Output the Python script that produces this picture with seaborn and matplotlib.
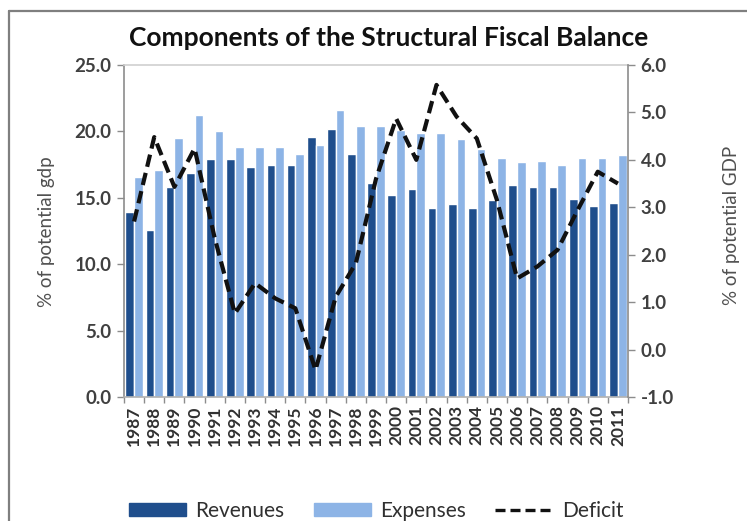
import numpy as np
import pandas as pd
import matplotlib
matplotlib.use("Agg")
import matplotlib.pyplot as plt
import seaborn as sns
from matplotlib.lines import Line2D
from matplotlib.patches import Patch
from matplotlib.ticker import FixedLocator

years = [str(y) for y in range(1987, 2012)]
revenues = [13.9, 12.6, 15.8, 16.9, 17.9, 17.9, 17.3, 17.5, 17.5, 19.6,
            20.2, 18.3, 16.1, 15.2, 15.7, 14.2, 14.5, 14.2, 14.8, 16.0,
            15.8, 15.8, 14.9, 14.4, 14.6]
expenses = [16.6, 17.1, 19.5, 21.2, 20.0, 18.8, 18.8, 18.8, 18.3, 19.0,
            21.6, 20.4, 20.4, 20.1, 19.9, 19.9, 19.4, 18.7, 18.0, 17.7,
            17.8, 17.5, 18.0, 18.0, 18.2]
deficit = [2.7, 4.48, 3.43, 4.24, 2.35, 0.76, 1.40, 1.08, 0.87, -0.43,
           1.11, 1.82, 3.6, 4.87, 4.0, 5.58, 4.91, 4.45, 3.15, 1.50,
           1.75, 2.10, 2.94, 3.75, 3.5]

dark = "#1f4e8c"
light = "#8db4e6"
grey = "#8c8c8c"
txt = "#404040"

sns.set_style("white")
plt.rcParams['font.family'] = ['Lato', 'DejaVu Sans']

df = pd.DataFrame({
    "year": years * 2,
    "value": revenues + expenses,
    "series": ["Revenues"] * len(years) + ["Expenses"] * len(years),
})

fig = plt.figure(figsize=(7.47, 5.21), dpi=100)
ax = fig.add_axes([124 / 747, 1 - 397 / 521, 504 / 747, 332 / 521])

sns.barplot(data=df, x="year", y="value", hue="series", palette=[dark, light],
            width=0.86, saturation=1, ax=ax, legend=False)
ax.set_xlim(-0.5, len(years) - 0.5)
ax.set_ylim(0, 25)
ax.set_yticks(np.arange(0, 25.1, 5))
ax.set_yticklabels([f"{v:.1f}" for v in np.arange(0, 25.1, 5)])
ax.set_xlabel("")
ax.set_ylabel("% of potential gdp", fontsize=13.5, color="#505050")
ax.yaxis.set_label_coords(-0.137, 0.497)

ax2 = ax.twinx()
sns.lineplot(x=np.arange(len(years)), y=deficit, ax=ax2, color="#111111",
             linewidth=3, linestyle=(0, (3, 1.5)))
ax2.set_ylim(-1, 6)
ax2.set_yticks(np.arange(-1, 6.1, 1))
ax2.set_yticklabels([f"{v:.1f}" for v in np.arange(-1, 6.1, 1)])
ax2.set_ylabel("% of potential GDP", fontsize=13.5, color="#505050", rotation=90)
ax2.yaxis.set_label_coords(1.188, 0.518)

# category tick marks between groups
ax.tick_params(axis="x", which="major", length=0, pad=6, labelrotation=90,
               labelsize=12.5, labelcolor="#303030")
ax.xaxis.set_minor_locator(FixedLocator(np.arange(-0.5, len(years), 1)))
ax.tick_params(axis="x", which="minor", length=4, color=grey, width=1, bottom=True)
ax.tick_params(axis="y", length=5, color=grey, width=1, left=True,
               labelsize=13.5, labelcolor=txt, pad=4)
ax2.tick_params(axis="y", length=5, color=grey, width=1, right=True,
                labelsize=13.5, labelcolor=txt, pad=4)
for lab in ax.get_xticklabels() + ax.get_yticklabels() + ax2.get_yticklabels():
    lab.set_fontweight("bold")

for a in (ax, ax2):
    for side in a.spines:
        a.spines[side].set_visible(False)
ax.spines["left"].set_visible(True)
ax.spines["left"].set_color(grey)
ax.spines["bottom"].set_visible(True)
ax.spines["bottom"].set_color("#b0b0b0")
ax.spines["top"].set_visible(True)
ax.spines["top"].set_color("#d0d0d0")
ax2.spines["right"].set_visible(True)
ax2.spines["right"].set_color(grey)
for s in ("left", "bottom", "top"):
    ax.spines[s].set_linewidth(1.2)
ax2.spines["right"].set_linewidth(1.2)

fig.text(389 / 747, 1 - 38 / 521, "Components of the Structural Fiscal Balance",
         ha="center", va="center", fontsize=19, fontweight="bold", color="#111111")

handles = [Patch(facecolor=dark, edgecolor=dark),
           Patch(facecolor=light, edgecolor=light),
           Line2D([], [], color="#111111", linewidth=2.4, linestyle=(0, (3, 1.5)))]
fig.legend(handles, ["Revenues", "Expenses", "Deficit"], loc="center",
           bbox_to_anchor=(376 / 747, 1 - 511 / 521), ncol=3, frameon=False,
           fontsize=15, handlelength=2.75, handleheight=0.55, handletextpad=0.45,
           columnspacing=1.4, labelcolor="#303030")

# outer chart frame (only top and left edges are in view)
fig.add_artist(Line2D([9 / 747, 1], [1 - 11 / 521, 1 - 11 / 521],
                      transform=fig.transFigure, color="#7f7f7f", linewidth=1.6))
fig.add_artist(Line2D([9 / 747, 9 / 747], [0, 1 - 11 / 521],
                      transform=fig.transFigure, color="#7f7f7f", linewidth=1.6))

fig.savefig("out.png", dpi=100, facecolor="white")
